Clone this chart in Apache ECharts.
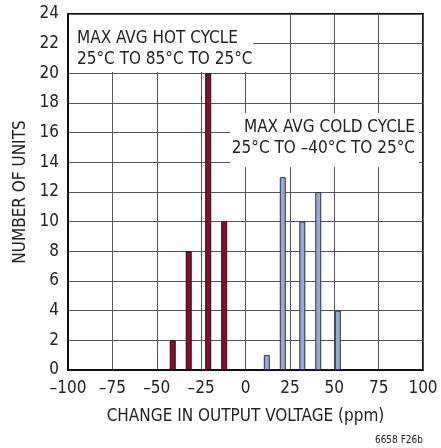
<!DOCTYPE html>
<html>
<head>
<meta charset="utf-8">
<script src="https://cdn.jsdelivr.net/npm/echarts@6/dist/echarts.min.js"></script>
<style>
  html, body { margin: 0; padding: 0; background: #fff; }
  #chart { width: 441px; height: 448px; }
</style>
</head>
<body>
<div id="chart"></div>
<script>
// hot cycle histogram (ppm, units)
var hotX = [-41, -32, -21, -12];
var hotN = [2, 8, 20, 10];
// cold cycle histogram
var coldX = [12, 21, 32, 41, 52];
var coldN = [1, 13, 10, 12, 4];

var FONT = '"Liberation Sans Narrow", "DejaVu Sans Condensed", "Roboto", sans-serif';
var TXT = '#222';

function pairs(xs, ys) {
  return xs.map(function (x, i) { return [x, ys[i]]; });
}

var chart = echarts.init(document.getElementById('chart'));

var option = {
  animation: false,
  backgroundColor: '#fff',
  grid: { left: 68, right: 18, top: 14, bottom: 78, show: true, borderColor: '#111', borderWidth: 2, backgroundColor: 'transparent' },
  xAxis: {
    type: 'value',
    min: -100, max: 100, interval: 25,
    name: 'CHANGE IN OUTPUT VOLTAGE (ppm)',
    nameLocation: 'middle', nameGap: 38,
    nameTextStyle: { fontFamily: FONT, fontSize: 17, color: TXT },
    axisLine: { show: true, onZero: false, lineStyle: { color: '#111', width: 2 } },
    axisTick: { show: false },
    axisLabel: {
      fontFamily: FONT, fontSize: 17, color: TXT, margin: 10,
      formatter: function (v) { return String(v).replace('-', '\u2013'); }
    },
    splitLine: { show: true, lineStyle: { color: '#555', width: 1 } }
  },
  yAxis: {
    type: 'value',
    min: 0, max: 24, interval: 2,
    name: 'NUMBER OF UNITS',
    nameLocation: 'middle', nameGap: 37,
    nameTextStyle: { fontFamily: FONT, fontSize: 17, color: TXT },
    axisLine: { show: true, onZero: false, lineStyle: { color: '#111', width: 2 } },
    axisTick: { show: false },
    axisLabel: { fontFamily: FONT, fontSize: 17, color: TXT, margin: 9 },
    splitLine: { show: true, lineStyle: { color: '#555', width: 1 } }
  },
  series: [{
    name: 'hot',
    type: 'bar',
    barWidth: 6,
    barGap: '-100%',
    data: pairs(hotX, hotN),
    itemStyle: { color: '#8c0a2c', borderColor: '#2a0a12', borderWidth: 1 },
    z: 3
  }, {
    name: 'cold',
    type: 'bar',
    barWidth: 6,
    barGap: '-100%',
    data: pairs(coldX, coldN),
    itemStyle: { color: '#9aa8d6', borderColor: '#2a2f44', borderWidth: 1 },
    z: 3
  }],
  graphic: [{
    // white box behind the hot-cycle note
    type: 'rect', z: 10,
    shape: { x: 69, y: 15, width: 184, height: 57 },
    style: { fill: '#fff' }
  }, {
    type: 'text', z: 11, left: 77, top: 28,
    style: {
      text: 'MAX AVG HOT CYCLE\n25°C TO 85°C TO 25°C',
      font: '17px ' + FONT, fill: TXT, lineHeight: 21
    }
  }, {
    // white box behind the cold-cycle note
    type: 'rect', z: 10,
    shape: { x: 230, y: 113, width: 189, height: 54 },
    style: { fill: '#fff' }
  }, {
    type: 'text', z: 11,
    style: {
      x: 415, y: 128, text: 'MAX AVG COLD CYCLE',
      font: '17px ' + FONT, fill: TXT, align: 'right', verticalAlign: 'middle'
    }
  }, {
    type: 'text', z: 11,
    style: {
      x: 415, y: 149, text: '25°C TO \u201340°C TO 25°C',
      font: '17px ' + FONT, fill: TXT, align: 'right', verticalAlign: 'middle'
    }
  }, {
    type: 'text', z: 11, right: 18, top: 435,
    style: { text: '6658 F26b', font: '10px ' + FONT, fill: TXT }
  }]
};

chart.setOption(option);
</script>
</body>
</html>
